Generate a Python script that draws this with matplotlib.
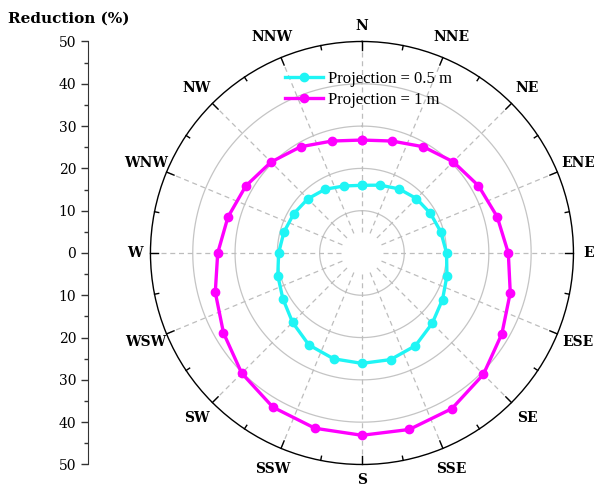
import numpy as np
import matplotlib.pyplot as plt

plt.rcParams['font.family'] = ['DejaVu Serif']

# wind directions (deg clockwise from north) and reduction values (%)
angles = [0, 15, 30, 45, 60, 75, 90, 105, 120, 135, 150, 165,
          180, 195, 210, 225, 240, 255, 270, 285, 300, 315, 330, 345]
proj_05 = [16.0, 16.6, 17.5, 18.2, 18.7, 19.3, 20.0, 20.8, 22.0, 23.5, 25.3, 26.1,
           26.1, 25.9, 25.1, 23.2, 21.6, 20.6, 19.7, 19.1, 18.6, 18.1, 17.4, 16.4]
proj_1 = [26.7, 27.4, 29.0, 30.5, 31.8, 33.1, 34.6, 36.3, 38.2, 40.6, 42.5, 43.2,
          43.1, 42.9, 42.1, 40.2, 37.8, 35.9, 34.1, 32.8, 31.7, 30.4, 29.0, 27.4]
compass = ['N', 'NNE', 'NE', 'ENE', 'E', 'ESE', 'SE', 'SSE',
           'S', 'SSW', 'SW', 'WSW', 'W', 'WNW', 'NW', 'NNW']
rings = [10, 20, 30, 40]
rmax = 50

fig = plt.figure(figsize=(5.94, 4.88), dpi=100)
ax = fig.add_axes([0.2533, 0.0482, 0.7121, 0.8668], projection='polar')
ax.set_theta_zero_location('N')
ax.set_theta_direction(-1)
ax.set_ylim(0, rmax)
ax.grid(False)
ax.set_xticks([])
ax.set_yticks([])
ax.spines['polar'].set_linewidth(1.0)
ax.spines['polar'].set_color('black')

full = np.linspace(0, 2 * np.pi, 361)
for r in rings:
    ax.plot(full, np.full_like(full, r), color='#c4c4c4', lw=0.9, zorder=1)

for i, name in enumerate(compass):
    t = np.deg2rad(i * 22.5)
    ax.plot([t, t], [5, rmax], color='#bdbdbd', lw=0.9, ls=(0, (4, 3)), zorder=1)
    ax.plot([t, t], [rmax - 1.9, rmax], color='black', lw=1.0, zorder=2, clip_on=False)
    t2 = np.deg2rad(i * 22.5 + 11.25)
    ax.plot([t2, t2], [rmax - 1.0, rmax], color='black', lw=1.0, zorder=2, clip_on=False)
    rlab = rmax + 3.6 if i % 4 == 0 else rmax + 5.3
    ax.text(t, rlab, name, ha='center', va='center', fontsize=10,
            fontweight='bold', clip_on=False)

th = np.deg2rad(angles + [angles[0]])
ax.plot(th, proj_05 + [proj_05[0]], color='#1ff5f5', lw=2.4, marker='o', ms=6,
        label='Projection = 0.5 m', zorder=4)
ax.plot(th, proj_1 + [proj_1[0]], color='#ff00ff', lw=2.4, marker='o', ms=6,
        label='Projection = 1 m', zorder=5)

leg = fig.legend(loc='upper left', bbox_to_anchor=(0.4798, 0.855), frameon=False,
                 prop={'family': 'Liberation Serif', 'size': 12},
                 handlelength=2.3, handletextpad=0.3, labelspacing=0.33,
                 borderaxespad=0, borderpad=0)

# linear scale on the left
lax = fig.add_axes([0.1481, 0.0482, 0.001, 0.8668])
lax.set_ylim(-rmax, rmax)
lax.set_xticks([])
ticks = list(range(-50, 51, 10))
lax.set_yticks(ticks)
lax.set_yticklabels([str(abs(v)) for v in ticks], fontsize=10)
lax.set_yticks(list(range(-45, 50, 10)), minor=True)
lax.tick_params(axis='y', which='major', length=5, width=1, color='#333333')
lax.tick_params(axis='y', which='minor', length=3, width=1, color='#333333')
for s in ['top', 'right', 'bottom']:
    lax.spines[s].set_visible(False)
lax.spines['left'].set_color('#333333')
lax.patch.set_visible(False)

fig.text(0.013, 0.962, 'Reduction (%)', fontsize=11, fontweight='bold',
         ha='left', va='center')

fig.savefig('out.png', dpi=100)
